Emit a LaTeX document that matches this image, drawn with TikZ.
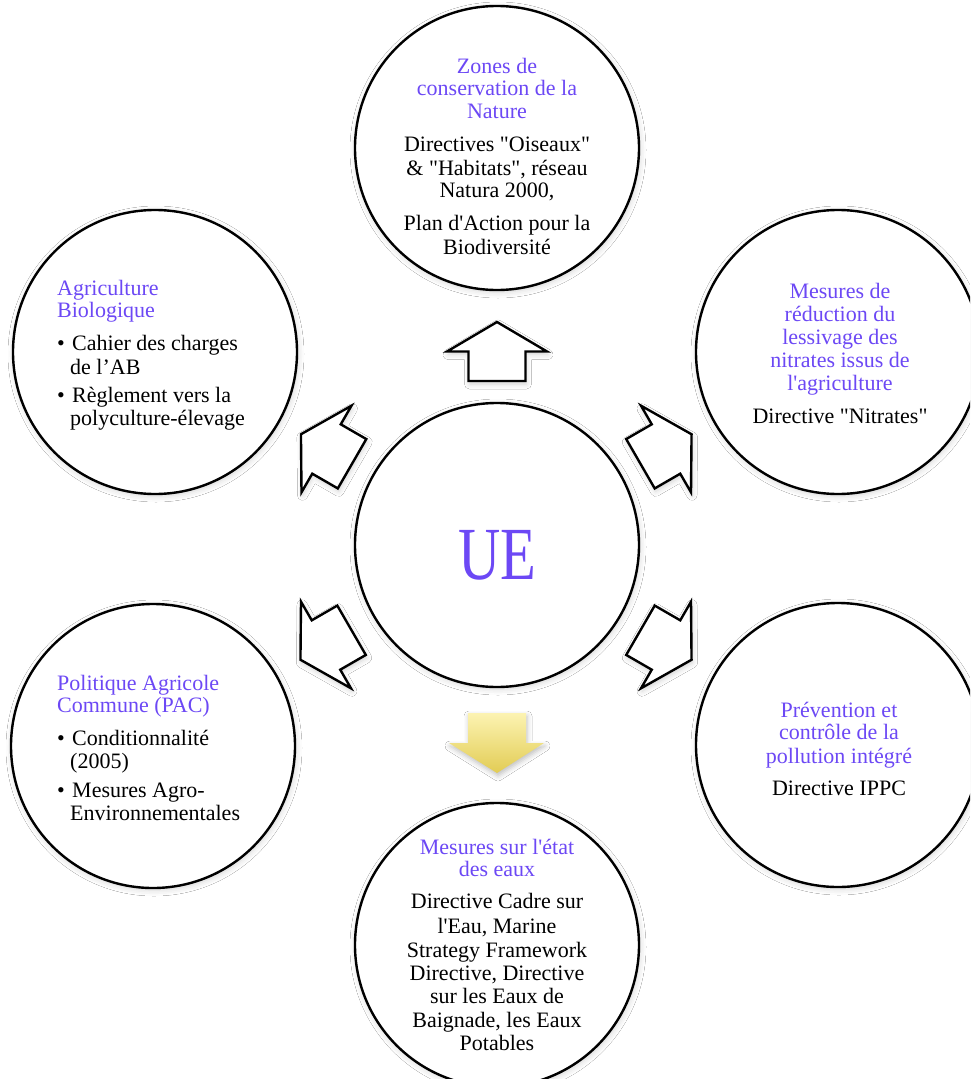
\documentclass[tikz,border=0pt]{standalone}
\usepackage{fontspec}
\usepackage{graphicx}
\newfontfamily\cam{Liberation Serif}
\usetikzlibrary{shadows.blur}
\definecolor{titlec}{RGB}{108,72,245}
\definecolor{yellowtop}{RGB}{252,243,178}
\definecolor{yellowbot}{RGB}{226,204,84}
\tikzset{
  circ/.style={circle, draw=black, line width=2.4pt, fill=white, minimum size=284pt, inner sep=0pt,
    blur shadow={shadow xshift=1pt, shadow yshift=-2pt, shadow blur radius=6pt, shadow opacity=18}},
  ttl/.style={font=\cam\fontsize{22}{23}\selectfont, text=titlec, inner sep=0pt},
  txt/.style={font=\cam\fontsize{22}{23}\selectfont, text=black, inner sep=0pt},
  arrowout/.style={draw=black, line width=2.4pt, fill=white, line join=miter,
    blur shadow={shadow xshift=1pt, shadow yshift=-3pt, shadow blur radius=5pt, shadow opacity=18}},
}
\begin{document}
\begin{tikzpicture}[x=1pt,y=-1pt]
\useasboundingbox (0,0) rectangle (970,1079);
\fill[white] (0,0) rectangle (970,1079);
\begin{scope}
\clip (0,0) rectangle (970,1079);
% circles
\node[circ] (ctop) at (497,148) {};
\node[circ] (ctr) at (838,352) {};
\node[circ] (cbr) at (838,745) {};
\node[circ] (cbot) at (497,945) {};
\node[circ] (cbl) at (153,746) {};
\node[circ] (ctl) at (155,352) {};
\node[circ] (cmid) at (497,545) {};
\end{scope}
% UE
\node[font=\cam\fontsize{75}{75}\selectfont, text=titlec, inner sep=0pt, anchor=base] (ue) at (497,579) {\scalebox{0.78}[1]{UE}};
% arrows
\begin{scope}[shift={(497,351.5)}, rotate=90]
\draw[arrowout] (-29.5,-28.5) -- (0,-28.5) -- (0,-50) -- (29.5,0) -- (0,50) -- (0,28.5) -- (-29.5,28.5) -- cycle;
\end{scope}
\begin{scope}[shift={(326.5,449)}, rotate=150]
\draw[arrowout] (-29.5,-28.5) -- (0,-28.5) -- (0,-50) -- (29.5,0) -- (0,50) -- (0,28.5) -- (-29.5,28.5) -- cycle;
\end{scope}
\begin{scope}[shift={(666,449)}, rotate=30]
\draw[arrowout] (-29.5,-28.5) -- (0,-28.5) -- (0,-50) -- (29.5,0) -- (0,50) -- (0,28.5) -- (-29.5,28.5) -- cycle;
\end{scope}
\begin{scope}[shift={(326,645)}, rotate=210]
\draw[arrowout] (-29.5,-28.5) -- (0,-28.5) -- (0,-50) -- (29.5,0) -- (0,50) -- (0,28.5) -- (-29.5,28.5) -- cycle;
\end{scope}
\begin{scope}[shift={(666,645)}, rotate=-30]
\draw[arrowout] (-29.5,-28.5) -- (0,-28.5) -- (0,-50) -- (29.5,0) -- (0,50) -- (0,28.5) -- (-29.5,28.5) -- cycle;
\end{scope}
\shade[top color=yellowtop, bottom color=yellowbot,
  blur shadow={shadow xshift=1pt, shadow yshift=-3pt, shadow blur radius=5pt, shadow opacity=25}]
  (468,713) -- (526,713) -- (526,743) -- (544,743) -- (497,773) -- (449,743) -- (468,743) -- cycle;
% top circle
\node[ttl, anchor=base] (a1) at (497,73) {Zones de};
\node[ttl, anchor=base] (a2) at (497,95) {conservation de la};
\node[ttl, anchor=base] (a3) at (497,118) {Nature};
\node[txt, anchor=base] (a4) at (497,151) {Directives "Oiseaux"};
\node[txt, anchor=base] (a5) at (497,175) {\& "Habitats", réseau};
\node[txt, anchor=base] (a6) at (497,197) {Natura 2000,};
\node[txt, anchor=base] (a7) at (497,230) {Plan d'Action pour la};
\node[txt, anchor=base] (a8) at (497,254) {Biodiversité};
% top right
\node[ttl, anchor=base] (b1) at (840,298) {Mesures de};
\node[ttl, anchor=base] (b2) at (840,321) {réduction du};
\node[ttl, anchor=base] (b3) at (840,344) {lessivage des};
\node[ttl, anchor=base] (b4) at (840,367) {nitrates issus de};
\node[ttl, anchor=base] (b5) at (840,390) {l'agriculture};
\node[txt, anchor=base] (b6) at (840,423) {Directive "Nitrates"};
% bottom right
\node[ttl, anchor=base] (c1) at (839,717) {Prévention et};
\node[ttl, anchor=base] (c2) at (839,739) {contrôle de la};
\node[ttl, anchor=base] (c3) at (839,763) {pollution intégré};
\node[txt, anchor=base] (c4) at (839,795) {Directive IPPC};
% bottom
\node[ttl, anchor=base] (d1) at (497,854) {Mesures sur l'état};
\node[ttl, anchor=base] (d2) at (497,876) {des eaux};
\node[txt, anchor=base] (d3) at (497,908) {Directive Cadre sur};
\node[txt, anchor=base] (d4) at (497,933) {l'Eau, Marine};
\node[txt, anchor=base] (d5) at (497,957) {Strategy Framework};
\node[txt, anchor=base] (d6) at (497,980) {Directive, Directive};
\node[txt, anchor=base] (d7) at (497,1003) {sur les Eaux de};
\node[txt, anchor=base] (d8) at (497,1027) {Baignade, les Eaux};
\node[txt, anchor=base] (d9) at (497,1050) {Potables};
% top left
\node[ttl, anchor=base west] (e1) at (57,295) {Agriculture};
\node[ttl, anchor=base west] (e2) at (57,317) {Biologique};
\node[txt, anchor=base west] (e3b) at (57,350) {•};
\node[txt, anchor=base west] (e3) at (72,350) {Cahier des charges};
\node[txt, anchor=base west] (e4) at (70,374) {de l’AB};
\node[txt, anchor=base west] (e5b) at (57,402) {•};
\node[txt, anchor=base west] (e5) at (72,402) {Règlement vers la};
\node[txt, anchor=base west] (e6) at (70,425) {polyculture-élevage};
% bottom left
\node[ttl, anchor=base west] (f1) at (57,690) {Politique Agricole};
\node[ttl, anchor=base west] (f2) at (57,712) {Commune (PAC)};
\node[txt, anchor=base west] (f3b) at (57,745) {•};
\node[txt, anchor=base west] (f3) at (72,745) {Conditionnalité};
\node[txt, anchor=base west] (f4) at (70,768) {(2005)};
\node[txt, anchor=base west] (f5b) at (57,797) {•};
\node[txt, anchor=base west] (f5) at (72,797) {Mesures Agro-};
\node[txt, anchor=base west] (f6) at (70,820) {Environnementales};
\end{tikzpicture}
\end{document}
